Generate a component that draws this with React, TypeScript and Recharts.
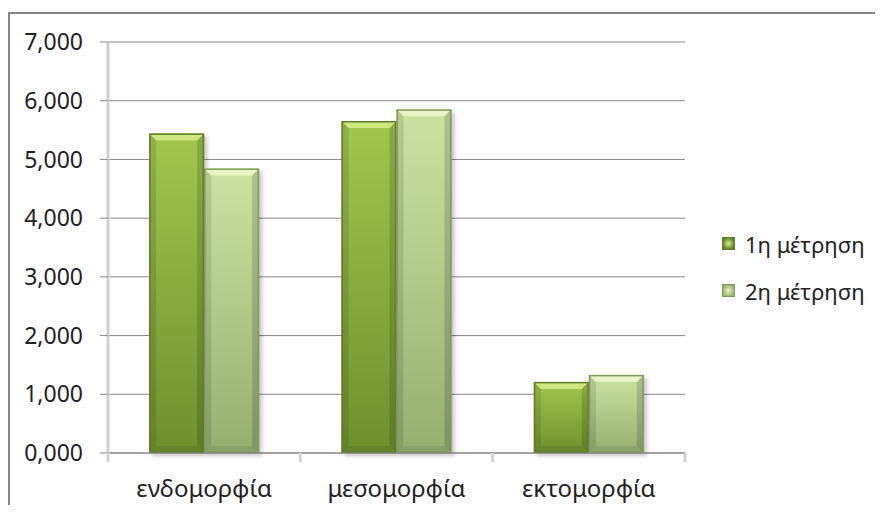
import { BarChart, Bar, XAxis, YAxis, CartesianGrid, Legend } from 'recharts';

const categories = ['ενδομορφία', 'μεσομορφία', 'εκτομορφία'];
const firstMeasure = [5.443, 5.654, 1.211];
const secondMeasure = [4.847, 5.853, 1.33];
const seriesNames = ['1η μέτρηση', '2η μέτρηση'];
const yTicks = [0, 1, 2, 3, 4, 5, 6, 7];

const data = categories.map((name, i) => ({
  name,
  first: firstMeasure[i],
  second: secondMeasure[i],
}));

const FONT = '"Noto Sans", "DejaVu Sans", sans-serif';

const palette = [
  { top: '#a2c64e', bottom: '#6f8e2e', edge: '#5f7d28', bevel: '#d8f08e', icon: '#62802a' },
  { top: '#cbe2a2', bottom: '#95af70', edge: '#82995c', bevel: '#f0f9d0', icon: '#98b270' },
];

const formatTick = (v: number) => v.toFixed(3).replace('.', ',');

function BevelBar(props: any, idx: number) {
  const { x, y, width, height } = props;
  if (!height || height <= 0) return null;
  const c = palette[idx];
  const b = Math.min(7, height / 3);
  return (
    <g>
      <rect x={x + 3} y={y + 3} width={width} height={height} fill="#000" opacity={0.22} filter="url(#barShadow)" />
      <rect x={x} y={y} width={width} height={height} fill={`url(#grad${idx})`} />
      {/* top bevel */}
      <polygon
        points={`${x},${y} ${x + width},${y} ${x + width - b},${y + b} ${x + b},${y + b}`}
        fill={c.bevel}
        opacity={0.8}
      />
      {/* side and bottom bevels */}
      <polygon
        points={`${x},${y} ${x + b},${y + b} ${x + b},${y + height - b} ${x},${y + height}`}
        fill="#000"
        opacity={0.1}
      />
      <polygon
        points={`${x + width},${y} ${x + width - b},${y + b} ${x + width - b},${y + height - b} ${x + width},${y + height}`}
        fill="#000"
        opacity={0.14}
      />
      <polygon
        points={`${x},${y + height} ${x + b},${y + height - b} ${x + width - b},${y + height - b} ${x + width},${y + height}`}
        fill="#000"
        opacity={0.08}
      />
      <rect x={x + 0.75} y={y + 0.75} width={width - 1.5} height={height - 1.5} fill="none" stroke={c.edge} strokeWidth={1.5} />
    </g>
  );
}

// category label plus the light boundary marks between categories
function CategoryTick(props: any) {
  const { x, y, payload, index, width, visibleTicksCount } = props;
  const half = width / visibleTicksCount / 2;
  const tickStyle = { stroke: '#d0d0d0', strokeWidth: 3 };
  return (
    <g>
      <line x1={x - half} y1={y} x2={x - half} y2={y + 9} {...tickStyle} />
      {index === visibleTicksCount - 1 && <line x1={x + half} y1={y} x2={x + half} y2={y + 9} {...tickStyle} />}
      <text x={x} y={y + 27} dy="0.71em" textAnchor="middle" fill="#222" fontSize={24} fontFamily={FONT}>
        {payload.value}
      </text>
    </g>
  );
}

function LegendBox() {
  return (
    <div style={{ fontFamily: FONT, fontSize: 22, color: '#222' }}>
      {seriesNames.map((n, i) => (
        <div key={n} style={{ display: 'flex', alignItems: 'center', height: 47 }}>
          <span
            style={{
              display: 'inline-block',
              width: 11,
              height: 11,
              marginRight: 10,
              border: `1px solid ${palette[i].edge}`,
              background: `radial-gradient(circle, ${palette[i].bevel} 0%, ${palette[i].icon} 75%)`,
            }}
          />
          {n}
        </div>
      ))}
    </div>
  );
}

export default function App() {
  return (
    <div
      style={{
        marginTop: 4,
        width: 865,
        height: 491,
        borderTop: '2px solid #878787',
        borderLeft: '2px solid #878787',
        background: '#fff',
        overflow: 'hidden',
      }}
    >
      <BarChart
        width={865}
        height={491}
        data={data}
        margin={{ top: 28, right: 190, bottom: 0, left: 8 }}
        barCategoryGap="21.4%"
        barGap={0}
      >
        <defs>
          {palette.map((c, i) => (
            <linearGradient key={i} id={`grad${i}`} x1="0" y1="0" x2="0" y2="1">
              <stop offset="0%" stopColor={c.top} />
              <stop offset="100%" stopColor={c.bottom} />
            </linearGradient>
          ))}
          <filter id="barShadow" x="-20%" y="-20%" width="140%" height="140%">
            <feGaussianBlur stdDeviation="2" />
          </filter>
        </defs>
        <CartesianGrid vertical={false} stroke="#878787" strokeWidth={1} />
        <XAxis
          dataKey="name"
          height={52}
          axisLine={{ stroke: '#878787' }}
          tickLine={false}
          tickSize={0}
          tickMargin={0}
          interval={0}
          tick={CategoryTick}
        />
        <YAxis
          width={90}
          domain={[0, 7]}
          ticks={yTicks}
          tickFormatter={formatTick}
          axisLine={{ stroke: '#d0d0d0', strokeWidth: 3 }}
          tickLine={{ stroke: '#878787' }}
          tickSize={8}
          tickMargin={17}
          tick={{ fill: '#222', fontSize: 23, fontFamily: FONT }}
        />
        <Legend
          layout="horizontal"
          verticalAlign="middle"
          align="center"
          content={() => <LegendBox />}
          wrapperStyle={{ position: 'absolute', left: 712, top: 206, width: 150 }}
        />
        <Bar dataKey="first" name={seriesNames[0]} isAnimationActive={false} shape={(p: any) => BevelBar(p, 0)} />
        <Bar dataKey="second" name={seriesNames[1]} isAnimationActive={false} shape={(p: any) => BevelBar(p, 1)} />
      </BarChart>
    </div>
  );
}
